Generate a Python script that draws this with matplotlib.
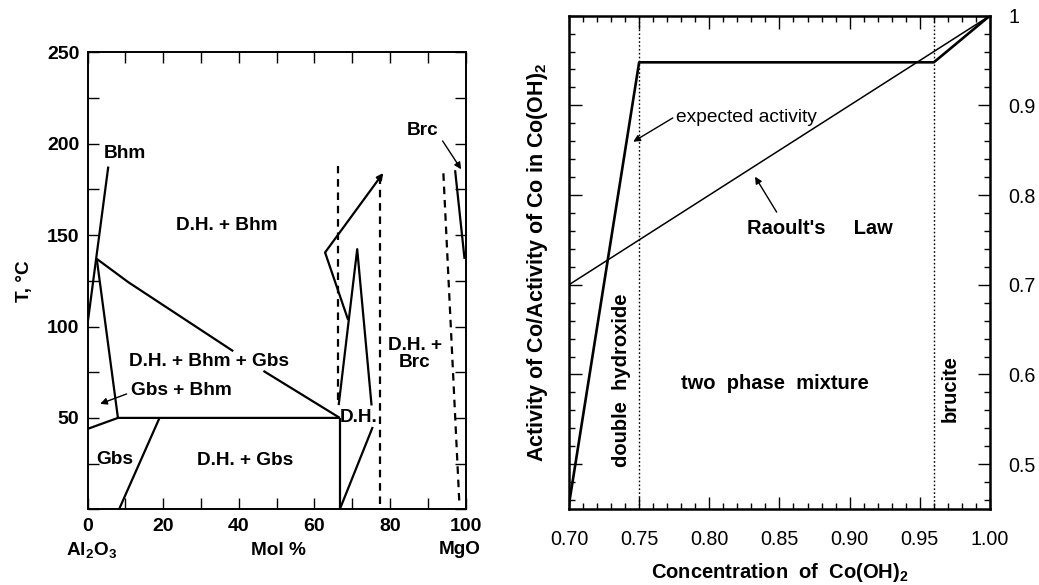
import matplotlib
matplotlib.use("Agg")
import matplotlib.pyplot as plt
from matplotlib.ticker import MultipleLocator, FixedLocator, FixedFormatter

plt.rcParams['font.family'] = ['Liberation Sans', 'DejaVu Sans']
plt.rcParams['mathtext.default'] = 'regular'

# ---------------- Left panel data (Mol % MgO vs T, °C) ----------------
bhm_x = [5.45, 0.0]
bhm_y = [187.5, 102.0]
gbs_bhm_x = [2.4, 8.0]
gbs_bhm_y = [137.0, 50.0]
diag1_x = [2.4, 10.7, 38.5]
diag1_y = [137.0, 124.3, 86.5]
diag2_x = [46.5, 66.7]
diag2_y = [75.7, 50.0]
iso50_x = [0.0, 8.0, 66.7]
iso50_y = [44.0, 50.0, 50.0]
gbs_x = [8.3, 19.0]
gbs_y = [0.0, 50.0]
dh_vert_x = [66.7, 66.7]
dh_vert_y = [0.0, 50.0]
dh_upper_x = [62.8, 68.9]
dh_upper_y = [140.5, 103.6]
dh_v_x = [66.4, 71.3, 75.1]
dh_v_y = [57.0, 142.3, 56.8]
dh_low_x = [66.7, 75.4]
dh_low_y = [0.0, 45.0]
brc_x = [97.2, 99.7]
brc_y = [185.5, 137.0]
dash1_x = [66.3, 66.3]
dash1_y = [60.0, 188.0]
dash2_x = [77.4, 77.4]
dash2_y = [3.0, 183.0]
dash3_x = [94.1, 98.3]
dash3_y = [183.8, 4.5]

left_xticks = [0, 20, 40, 60, 80, 100]
left_yticks = [50, 100, 150, 200, 250]

# ---------------- Right panel data ----------------
conc_expected = [0.70, 0.75, 0.96, 1.00]
act_expected = [0.455, 0.948, 0.948, 1.00]
conc_raoult = [0.70, 1.00]
act_raoult = [0.70, 1.00]
phase_bounds = [0.75, 0.96]
right_xticks = [0.70, 0.75, 0.80, 0.85, 0.90, 0.95, 1.00]
right_yticks = [0.5, 0.6, 0.7, 0.8, 0.9, 1.0]
right_ylabels = ['0.5', '0.6', '0.7', '0.8', '0.9', '1']

fig = plt.figure(figsize=(10.39, 5.85), dpi=100)

# ================= LEFT =================
axL = fig.add_axes([0.0844, 0.1294, 0.3638, 0.7812])
lw = 1.6
for xs, ys in [(bhm_x, bhm_y), (gbs_bhm_x, gbs_bhm_y), (diag1_x, diag1_y),
               (diag2_x, diag2_y), (iso50_x, iso50_y), (gbs_x, gbs_y),
               (dh_vert_x, dh_vert_y), (dh_upper_x, dh_upper_y),
               (dh_v_x, dh_v_y), (dh_low_x, dh_low_y), (brc_x, brc_y)]:
    axL.plot(xs, ys, color='black', lw=lw, solid_capstyle='butt')
for xs, ys in [(dash1_x, dash1_y), (dash2_x, dash2_y), (dash3_x, dash3_y)]:
    axL.plot(xs, ys, color='black', lw=1.6, linestyle=(0, (3.4, 2.6)))

# arrow on the upper D.H. boundary
axL.annotate('', xy=(78.2, 184.0), xytext=(62.8, 140.5),
             arrowprops=dict(arrowstyle='-|>', lw=lw, color='black', mutation_scale=9,
                             shrinkA=0, shrinkB=0))

axL.set_xlim(0, 100)
axL.set_ylim(0, 250)
axL.xaxis.set_major_locator(FixedLocator(left_xticks))
axL.xaxis.set_minor_locator(MultipleLocator(10))
axL.yaxis.set_major_locator(FixedLocator(left_yticks))
axL.yaxis.set_minor_locator(MultipleLocator(25))
axL.tick_params(which='both', direction='in', top=True, right=True, length=8, width=1.0)
axL.tick_params(which='major', labelsize=14, pad=6)
for lab in axL.get_xticklabels() + axL.get_yticklabels():
    lab.set_fontweight('bold')
for s in axL.spines.values():
    s.set_linewidth(1.4)

fsL = 13.7
axL.set_ylabel('T, °C', fontsize=fsL, fontweight='bold', labelpad=10)
tk = dict(fontsize=fsL, fontweight='bold', ha='center', va='center')
axL.text(9.9, 194.6, 'Bhm', **tk)
axL.text(36.8, 155.3, 'D.H. + Bhm', **tk)
axL.text(88.6, 207.2, 'Brc', **tk)
axL.text(32.2, 81.1, 'D.H. + Bhm + Gbs', **tk)
axL.text(24.9, 64.9, 'Gbs + Bhm', **tk)
axL.text(7.2, 27.0, 'Gbs', **tk)
axL.text(41.6, 26.6, 'D.H. + Gbs', **tk)
axL.text(71.6, 50.1, 'D.H.', **tk)
axL.text(86.6, 84.7, 'D.H. +\nBrc', linespacing=1.0, **tk)

arr = dict(arrowstyle='-|>', lw=1.0, color='black', mutation_scale=10, shrinkA=0, shrinkB=0)
axL.annotate('', xy=(98.8, 186.0), xytext=(93.9, 201.5), arrowprops=arr)
axL.annotate('', xy=(3.3, 57.7), xytext=(10.3, 63.1), arrowprops=arr)

xt = axL.get_xaxis_transform()
axL.text(1.0, -0.09, 'Al$_2$O$_3$', transform=xt, **tk)
axL.text(50.4, -0.09, 'Mol %', transform=xt, **tk)
axL.text(98.5, -0.088, 'MgO', transform=xt, **tk)

# ================= RIGHT =================
axR = fig.add_axes([0.5476, 0.1299, 0.4052, 0.8433])
axR.plot(conc_expected, act_expected, color='black', lw=1.9)
axR.plot(conc_raoult, act_raoult, color='black', lw=1.1)
for xb in phase_bounds:
    axR.axvline(xb, color='black', lw=1.0, linestyle=(0, (1.2, 1.6)))

axR.set_xlim(0.70, 1.00)
axR.set_ylim(0.45, 1.00)
axR.xaxis.set_major_locator(FixedLocator(right_xticks))
axR.xaxis.set_minor_locator(MultipleLocator(0.01))
axR.xaxis.set_major_formatter(FixedFormatter(['%.2f' % v for v in right_xticks]))
axR.yaxis.set_major_locator(FixedLocator(right_yticks))
axR.yaxis.set_major_formatter(FixedFormatter(right_ylabels))
axR.yaxis.set_minor_locator(MultipleLocator(0.02))
axR.tick_params(which='both', direction='in', top=True, right=True, left=True,
                labelleft=False, labelright=True, width=1.0)
axR.tick_params(which='major', length=9, labelsize=14.2)
axR.tick_params(which='minor', length=4.5)
axR.tick_params(axis='x', which='major', pad=15)
axR.tick_params(axis='y', which='major', pad=13)
for s in axR.spines.values():
    s.set_linewidth(1.8)

fsR = 14.5
axR.set_xlabel('Concentration  of  Co(OH)$_2$', fontsize=14.5, fontweight='bold', va='top')
axR.xaxis.set_label_coords(0.5, -0.105)
axR.set_ylabel('Activity of Co/Activity of Co in Co(OH)$_2$', fontsize=15.5,
               fontweight='bold', labelpad=14)

axR.text(0.776, 0.887, 'expected activity', fontsize=13.8, ha='left', va='center')
axR.annotate('', xy=(0.7458, 0.8595), xytext=(0.774, 0.886), arrowprops=arr)
axR.text(0.879, 0.763, "Raoult's     Law", fontsize=fsR, fontweight='bold', ha='center', va='center')
axR.annotate('', xy=(0.8326, 0.8205), xytext=(0.848, 0.781), arrowprops=arr)
axR.text(0.847, 0.590, 'two  phase  mixture', fontsize=fsR, fontweight='bold', ha='center', va='center')
axR.text(0.7376, 0.594, 'double  hydroxide', fontsize=fsR, fontweight='bold', ha='center',
         va='center', rotation=90)
axR.text(0.9716, 0.584, 'brucite', fontsize=fsR, fontweight='bold', ha='center',
         va='center', rotation=90)

fig.savefig('out.png', dpi=100)
